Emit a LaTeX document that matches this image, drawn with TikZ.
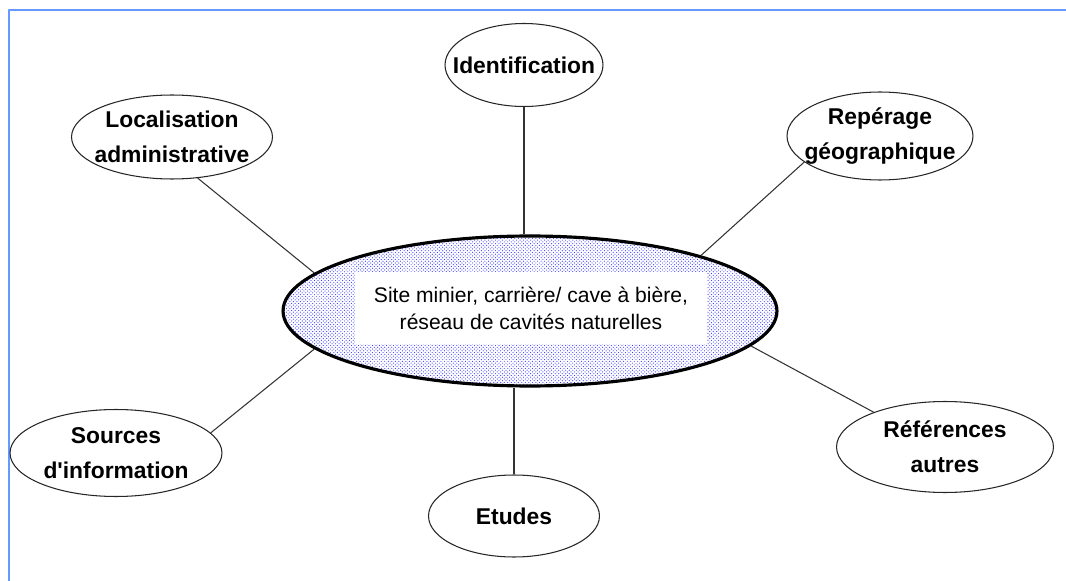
\documentclass[tikz,border=0pt]{standalone}
\usepackage{fontspec}
\setmainfont{Liberation Sans}
\usepackage{tikz}
\usetikzlibrary{shapes.geometric}
\usetikzlibrary{patterns}
\definecolor{framecol}{RGB}{102,153,255}
\definecolor{dotcol}{RGB}{60,60,255}
\pgfdeclarepatternformonly{fine dots}{\pgfqpoint{-0.5pt}{-0.5pt}}{\pgfqpoint{1.5pt}{1.5pt}}{\pgfqpoint{2pt}{2pt}}
{
	\pgfpathcircle{\pgfqpoint{0pt}{0pt}}{.34pt}
	\pgfpathcircle{\pgfqpoint{1pt}{1pt}}{.34pt}
	\pgfusepath{fill}
}

\begin{document}
\begin{tikzpicture}[x=0.02cm, y=-0.02cm, line join=round]
	\tikzstyle{topic}=[ellipse, draw=black!85, line width=0.6pt, inner xsep=-20pt, inner ysep=0pt, align=center, font=\fontsize{13}{20}\selectfont\bfseries]
	\tikzstyle{hub}=[ellipse, draw=black, line width=1.8pt, pattern=fine dots, pattern color=dotcol, minimum width=9.88cm, minimum height=3cm]
	\tikzstyle{hub text}=[fill=white, minimum width=7.06cm, minimum height=1.46cm, align=center, font=\fontsize{12}{15.4}\selectfont]
	\tikzstyle{link}=[draw=black!80, line width=0.6pt]
	\tikzstyle{frame}=[draw=framecol, line width=1pt]

	\useasboundingbox (0,0) rectangle (1066,581);

	% Draw the frame
	\draw[frame] (9,581) -- (9,10) -- (1066,10);

	% Draw the central site
	\node[hub] (site) at (530,311) {};
	\node[hub text] (site text) at (531,308) {Site minier, carrière/ cave à bière,\\réseau de cavités naturelles};

	% Draw the topics around it
	\node[topic, minimum width=3.16cm, minimum height=1.66cm] (ident) at (524,65) {Identification};
	\node[topic, minimum width=4.02cm, minimum height=1.68cm] (loc) at (172,137) {Localisation\\administrative};
	\node[topic, minimum width=3.72cm, minimum height=1.76cm] (rep) at (880,136) {Repérage\\géographique};
	\node[topic, minimum width=4.24cm, minimum height=1.74cm] (src) at (116,453) {Sources\\d\textquotesingle information};
	\node[topic, minimum width=3.42cm, minimum height=1.64cm] (etudes) at (514,516) {Etudes};
	\node[topic, minimum width=4.34cm, minimum height=1.82cm] (ref) at (945,447) {Références\\autres};

	% Connect the topics to the site
	\draw[link] (ident.south) -- (ident.south |- site.north);
	\draw[link] (loc.-58) -- (site.170);
	\draw[link] (rep.-161) -- (site.18);
	\draw[link] (src.12) -- (site.-170);
	\draw[link] (ref.154) -- (site.-9);
	\draw[link] (etudes.north) -- (etudes.north |- site.south);

\end{tikzpicture}
\end{document}
